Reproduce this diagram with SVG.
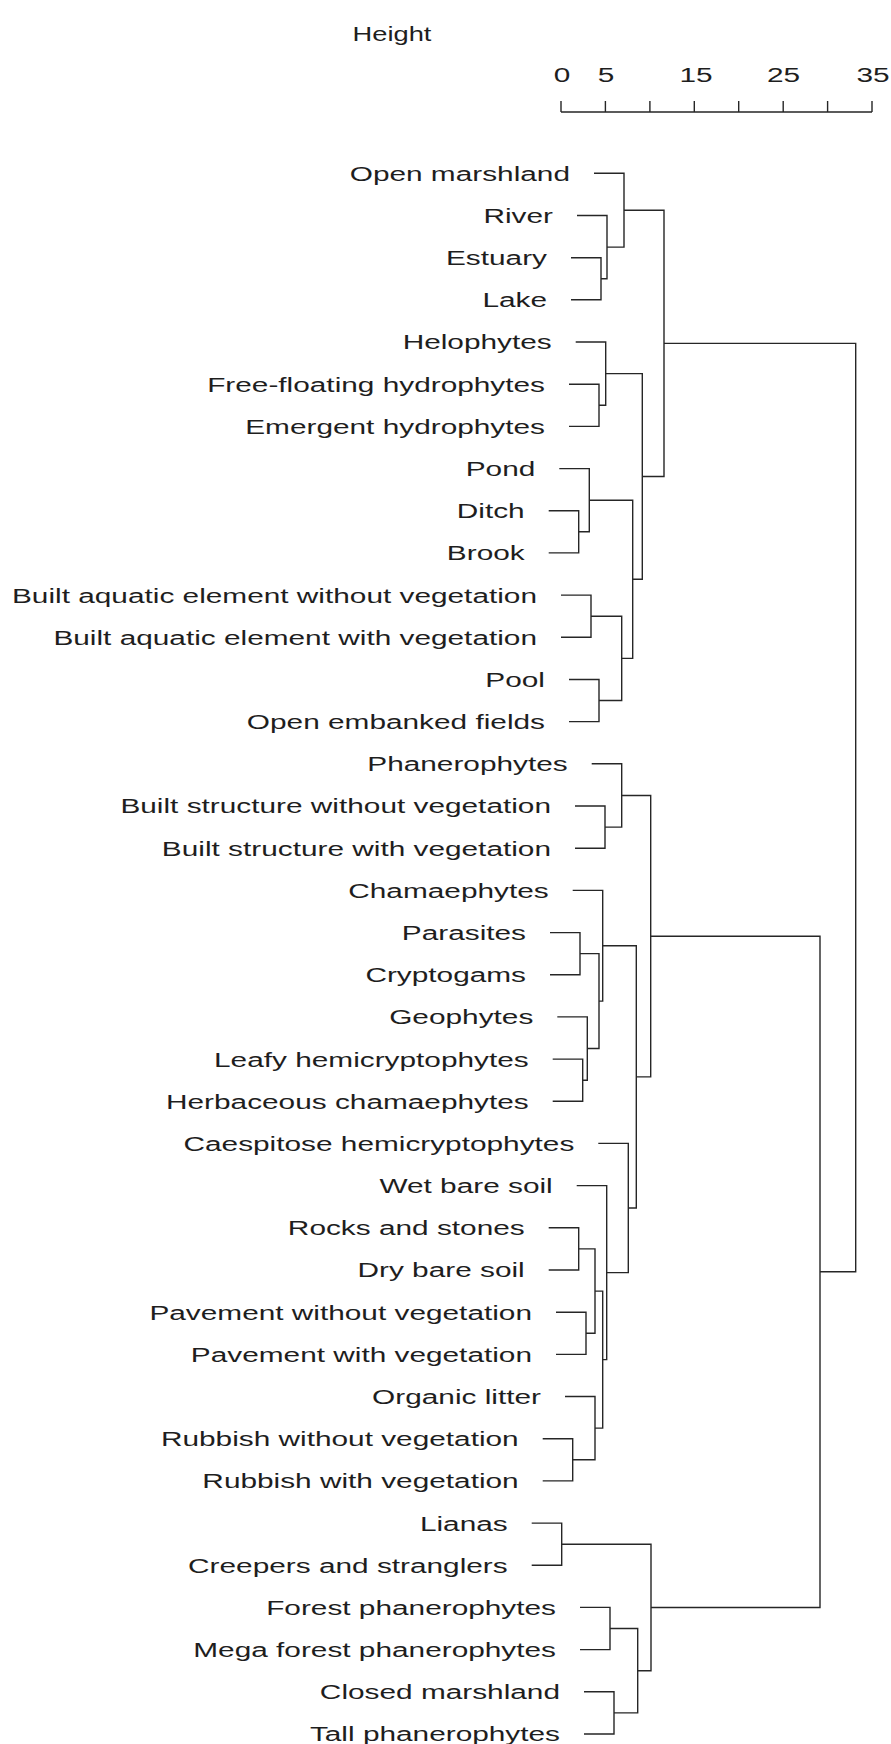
<svg xmlns="http://www.w3.org/2000/svg" width="891" height="1744" viewBox="0 0 891 1744">
<style>
  text { font-family: "Liberation Sans", Arial, sans-serif; font-size: 21px; fill: #1e1e1e; }
  .lbl { text-anchor: end; }
  .ax { text-anchor: middle; }
  .ln { fill: none; stroke: #262626; stroke-width: 1.4; }
</style>
<rect width="891" height="1744" fill="#ffffff"/>
<g id="axis">
  <path class="ln" d="M561,112 H872 M561,101 V112 M605.4,101 V112 M649.9,101 V112 M694.3,101 V112 M738.7,101 V112 M783.2,101 V112 M827.6,101 V112 M872,101 V112"/>
  <g transform="scale(1.3,1)">
    <text x="271.2" y="41">Height</text>
  </g>
  <g transform="scale(1.42,1)">
    <text class="ax" x="395.77" y="82">0</text>
    <text class="ax" x="426.76" y="82">5</text>
    <text class="ax" x="490.14" y="82">15</text>
    <text class="ax" x="551.76" y="82">25</text>
    <text class="ax" x="614.79" y="82">35</text>
  </g>
</g>
<g id="connectors">
  <path class="ln" d="M571,257.7 H601 V299.8 H571"/>
  <path class="ln" d="M577,215.5 H607 V278.75 H601"/>
  <path class="ln" d="M594,173.3 H624 V247.1 H607"/>
  <path class="ln" d="M569,384.2 H599 V426.4 H569"/>
  <path class="ln" d="M575.7,342 H605.7 V405.3 H599"/>
  <path class="ln" d="M548.7,510.7 H578.7 V552.9 H548.7"/>
  <path class="ln" d="M559.3,468.6 H589.3 V531.8 H578.7"/>
  <path class="ln" d="M561,595.1 H591 V637.3 H561"/>
  <path class="ln" d="M569,679.5 H599 V721.6 H569"/>
  <path class="ln" d="M591,616.2 H621.7 V700.55 H599"/>
  <path class="ln" d="M589.3,500.2 H632.7 V658.4 H621.7"/>
  <path class="ln" d="M605.7,373.65 H642.3 V579.3 H632.7"/>
  <path class="ln" d="M624,210.2 H664 V476.5 H642.3"/>
  <path class="ln" d="M575,806 H605 V848.2 H575"/>
  <path class="ln" d="M591.7,763.8 H621.7 V827.1 H605"/>
  <path class="ln" d="M550,932.6 H580 V974.7 H550"/>
  <path class="ln" d="M552.7,1059.1 H582.7 V1101.3 H552.7"/>
  <path class="ln" d="M557.3,1016.9 H587.3 V1080.2 H582.7"/>
  <path class="ln" d="M580,953.65 H599 V1048.55 H587.3"/>
  <path class="ln" d="M572.7,890.4 H602.7 V1001.1 H599"/>
  <path class="ln" d="M548.7,1227.8 H578.7 V1270 H548.7"/>
  <path class="ln" d="M556,1312.2 H586 V1354.4 H556"/>
  <path class="ln" d="M578.7,1248.9 H595 V1333.3 H586"/>
  <path class="ln" d="M542.7,1438.7 H572.7 V1480.9 H542.7"/>
  <path class="ln" d="M565,1396.5 H595 V1459.8 H572.7"/>
  <path class="ln" d="M595,1291.1 H602.7 V1428.15 H595"/>
  <path class="ln" d="M576.7,1185.6 H606.7 V1359.6 H602.7"/>
  <path class="ln" d="M598.3,1143.4 H628.3 V1272.6 H606.7"/>
  <path class="ln" d="M602.7,945.75 H636.3 V1208 H628.3"/>
  <path class="ln" d="M621.7,795.45 H650.7 V1076.9 H636.3"/>
  <path class="ln" d="M531.7,1523.1 H561.7 V1565.3 H531.7"/>
  <path class="ln" d="M580,1607.4 H610 V1649.6 H580"/>
  <path class="ln" d="M584,1691.8 H614 V1734 H584"/>
  <path class="ln" d="M610,1628.5 H637.7 V1712.9 H614"/>
  <path class="ln" d="M561.7,1544.2 H651 V1670.7 H637.7"/>
  <path class="ln" d="M650.7,936.2 H820 V1607.45 H651"/>
  <path class="ln" d="M664,343.35 H855.7 V1271.8 H820"/>
</g>
<g id="labels" transform="scale(1.42,1)">
  <g id="leaf-open-marshland"><text class="lbl" x="401.41" y="180.8">Open marshland</text></g>
  <g id="leaf-river"><text class="lbl" x="389.44" y="223">River</text></g>
  <g id="leaf-estuary"><text class="lbl" x="385.21" y="265.2">Estuary</text></g>
  <g id="leaf-lake"><text class="lbl" x="385.21" y="307.3">Lake</text></g>
  <g id="leaf-helophytes"><text class="lbl" x="388.52" y="349.5">Helophytes</text></g>
  <g id="leaf-free-floating"><text class="lbl" x="383.8" y="391.7">Free-floating hydrophytes</text></g>
  <g id="leaf-emergent"><text class="lbl" x="383.8" y="433.9">Emergent hydrophytes</text></g>
  <g id="leaf-pond"><text class="lbl" x="376.97" y="476.1">Pond</text></g>
  <g id="leaf-ditch"><text class="lbl" x="369.51" y="518.2">Ditch</text></g>
  <g id="leaf-brook"><text class="lbl" x="369.51" y="560.4">Brook</text></g>
  <g id="leaf-built-aquatic-without"><text class="lbl" x="378.17" y="602.6">Built aquatic element without vegetation</text></g>
  <g id="leaf-built-aquatic-with"><text class="lbl" x="378.17" y="644.8">Built aquatic element with vegetation</text></g>
  <g id="leaf-pool"><text class="lbl" x="383.8" y="687">Pool</text></g>
  <g id="leaf-open-embanked"><text class="lbl" x="383.8" y="729.1">Open embanked fields</text></g>
  <g id="leaf-phanerophytes"><text class="lbl" x="399.79" y="771.3">Phanerophytes</text></g>
  <g id="leaf-built-structure-without"><text class="lbl" x="388.03" y="813.5">Built structure without vegetation</text></g>
  <g id="leaf-built-structure-with"><text class="lbl" x="388.03" y="855.7">Built structure with vegetation</text></g>
  <g id="leaf-chamaephytes"><text class="lbl" x="386.41" y="897.9">Chamaephytes</text></g>
  <g id="leaf-parasites"><text class="lbl" x="370.42" y="940.1">Parasites</text></g>
  <g id="leaf-cryptogams"><text class="lbl" x="370.42" y="982.2">Cryptogams</text></g>
  <g id="leaf-geophytes"><text class="lbl" x="375.56" y="1024.4">Geophytes</text></g>
  <g id="leaf-leafy"><text class="lbl" x="372.32" y="1066.6">Leafy hemicryptophytes</text></g>
  <g id="leaf-herbaceous"><text class="lbl" x="372.32" y="1108.8">Herbaceous chamaephytes</text></g>
  <g id="leaf-caespitose"><text class="lbl" x="404.44" y="1150.9">Caespitose hemicryptophytes</text></g>
  <g id="leaf-wet-bare-soil"><text class="lbl" x="389.23" y="1193.1">Wet bare soil</text></g>
  <g id="leaf-rocks"><text class="lbl" x="369.51" y="1235.3">Rocks and stones</text></g>
  <g id="leaf-dry-bare-soil"><text class="lbl" x="369.51" y="1277.5">Dry bare soil</text></g>
  <g id="leaf-pavement-without"><text class="lbl" x="374.65" y="1319.7">Pavement without vegetation</text></g>
  <g id="leaf-pavement-with"><text class="lbl" x="374.65" y="1361.9">Pavement with vegetation</text></g>
  <g id="leaf-organic-litter"><text class="lbl" x="380.99" y="1404">Organic litter</text></g>
  <g id="leaf-rubbish-without"><text class="lbl" x="365.28" y="1446.2">Rubbish without vegetation</text></g>
  <g id="leaf-rubbish-with"><text class="lbl" x="365.28" y="1488.4">Rubbish with vegetation</text></g>
  <g id="leaf-lianas"><text class="lbl" x="357.54" y="1530.6">Lianas</text></g>
  <g id="leaf-creepers"><text class="lbl" x="357.54" y="1572.8">Creepers and stranglers</text></g>
  <g id="leaf-forest"><text class="lbl" x="391.55" y="1614.9">Forest phanerophytes</text></g>
  <g id="leaf-mega-forest"><text class="lbl" x="391.55" y="1657.1">Mega forest phanerophytes</text></g>
  <g id="leaf-closed-marshland"><text class="lbl" x="394.37" y="1699.3">Closed marshland</text></g>
  <g id="leaf-tall"><text class="lbl" x="394.37" y="1741.5">Tall phanerophytes</text></g>
</g>
</svg>
